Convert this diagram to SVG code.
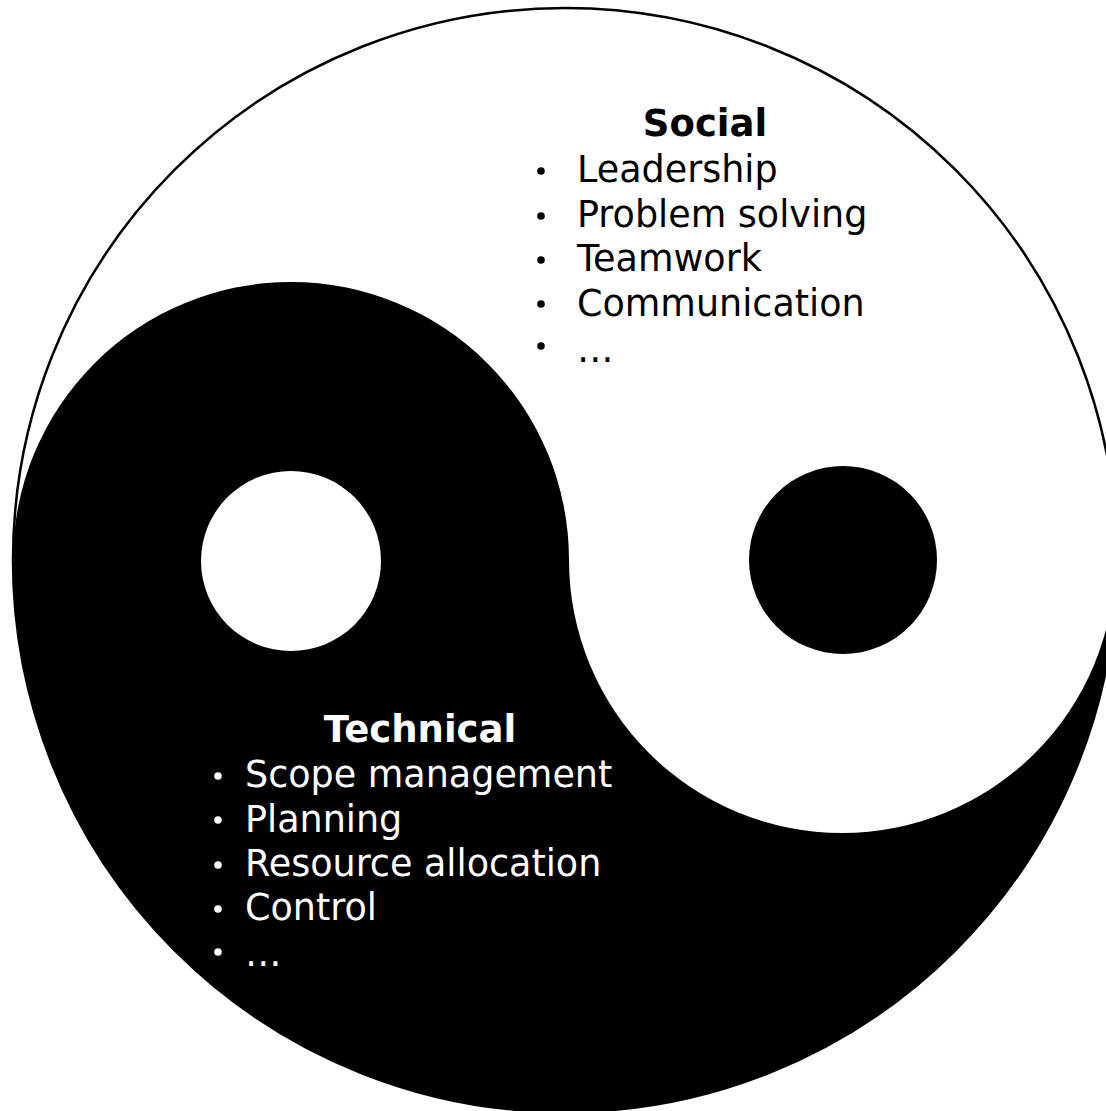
<svg xmlns="http://www.w3.org/2000/svg" width="1106" height="1111" viewBox="0 0 1106 1111">
  <style>
    .head { font-family: "DejaVu Sans", "Liberation Sans", sans-serif; font-weight: bold; font-size: 37px; text-anchor: middle; }
    .item { font-family: "DejaVu Sans", "Liberation Sans", sans-serif; font-size: 36.5px; }
    .dark { fill: #000000; }
    .light { fill: #ffffff; }
  </style>
  <rect x="0" y="0" width="1106" height="1111" fill="#ffffff"/>
  <g id="yinyang">
    <path class="dark" d="M13,560 A552,552 0 0 0 1117,560 Z"/>
    <circle class="dark" cx="291" cy="560" r="278"/>
    <circle class="light" cx="842" cy="560" r="273"/>
    <circle class="light" cx="291" cy="561" r="90"/>
    <circle class="dark" cx="843" cy="560" r="94"/>
    <circle cx="565" cy="560" r="552" fill="none" stroke="#000000" stroke-width="2.5"/>
  </g>
  <g id="social">
    <text class="head dark" x="705" y="136">Social</text>
    <circle class="dark" cx="541" cy="171" r="3.8"/>
    <circle class="dark" cx="541" cy="216" r="3.8"/>
    <circle class="dark" cx="541" cy="260" r="3.8"/>
    <circle class="dark" cx="541" cy="304" r="3.8"/>
    <circle class="dark" cx="541" cy="346" r="3.8"/>
    <text class="item dark" x="577" y="182">Leadership</text>
    <text class="item dark" x="577" y="227">Problem solving</text>
    <text class="item dark" x="577" y="271">Teamwork</text>
    <text class="item dark" x="577" y="316">Communication</text>
    <text class="item dark" x="577" y="362">…</text>
  </g>
  <g id="technical">
    <text class="head light" x="420" y="742">Technical</text>
    <circle class="light" cx="218" cy="776" r="3.8"/>
    <circle class="light" cx="218" cy="820" r="3.8"/>
    <circle class="light" cx="218" cy="865" r="3.8"/>
    <circle class="light" cx="218" cy="909" r="3.8"/>
    <circle class="light" cx="218" cy="952" r="3.8"/>
    <text class="item light" x="245" y="787">Scope management</text>
    <text class="item light" x="245" y="832">Planning</text>
    <text class="item light" x="245" y="876">Resource allocation</text>
    <text class="item light" x="245" y="920">Control</text>
    <text class="item light" x="245" y="966">…</text>
  </g>
</svg>
